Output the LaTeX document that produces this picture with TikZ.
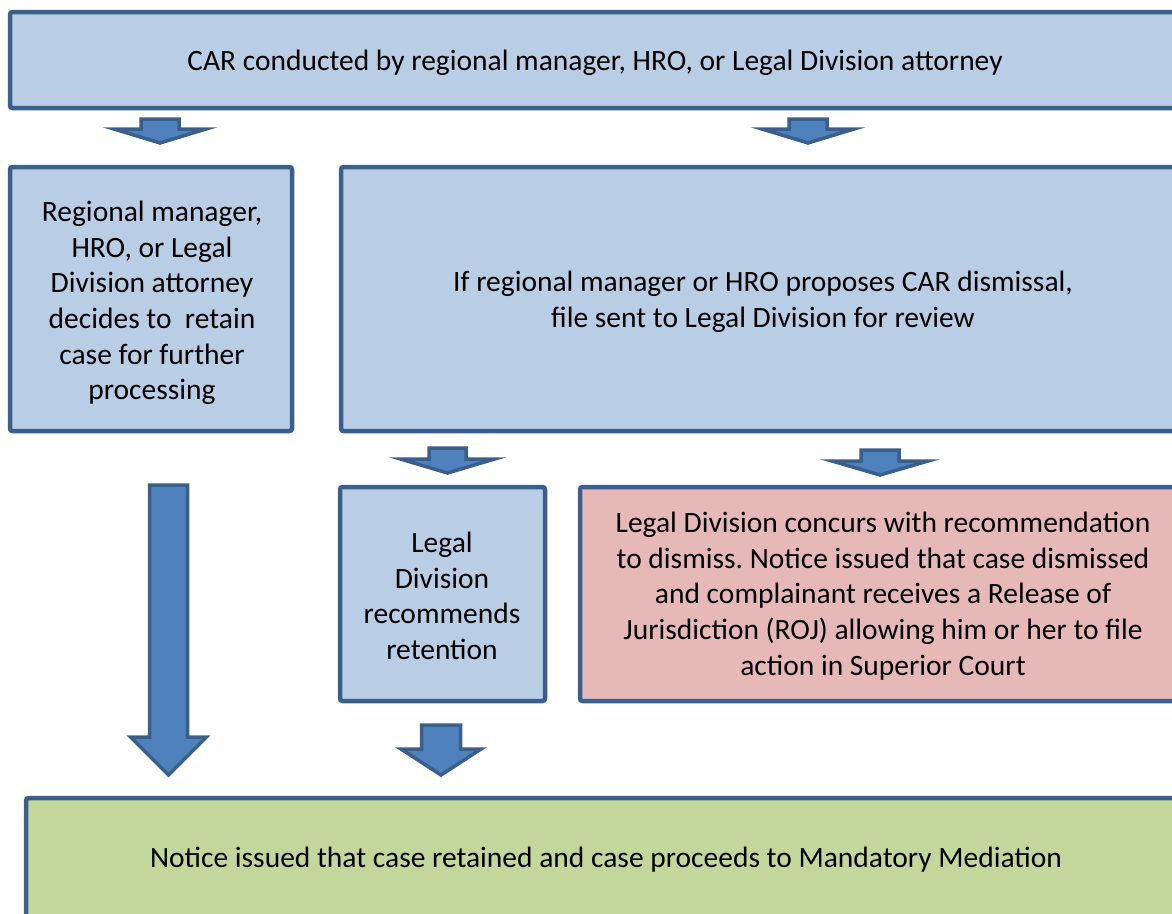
\documentclass[tikz,border=0pt]{standalone}
\usepackage{fontspec}
\setmainfont{Carlito}
\frenchspacing
\definecolor{edgeblue}{HTML}{3A5F8B}
\definecolor{boxblue}{HTML}{B9CDE5}
\definecolor{arrowblue}{HTML}{4F81BD}
\definecolor{boxred}{HTML}{E6B9B8}
\definecolor{boxgreen}{HTML}{C3D69B}
% block arrow pointing down: centre x, shaft half width, top, wing y, wing half width, tip y
\newcommand{\blkarrow}[6]{%
  \draw[blockarrow] (#1-#2,#3) -- (#1+#2,#3) -- (#1+#2,#4) -- (#1+#5,#4)
    -- (#1,#6) -- (#1-#5,#4) -- (#1-#2,#4) -- cycle;}
\begin{document}
\begin{tikzpicture}[x=1pt,y=-1pt,
  panel/.style={draw=edgeblue, line width=4.5pt, rounded corners=2.5pt},
  blockarrow/.style={draw=edgeblue, fill=arrowblue, line width=3.5pt, line join=miter},
  label/.style={font=\fontsize{29.5}{35.6}\selectfont, align=center, inner sep=0pt, text=black}]
\useasboundingbox (0,0) rectangle (1172,913);
\clip (0,0) rectangle (1172,913);

% panels
\draw[panel, fill=boxblue] (10,12) rectangle (1195,108);
\draw[panel, fill=boxblue] (10,167) rectangle (292,431);
\draw[panel, fill=boxblue] (341,167) rectangle (1195,431);
\draw[panel, fill=boxblue] (340,487) rectangle (545,701);
\draw[panel, fill=boxred] (580,487) rectangle (1195,701);
\draw[panel, fill=boxgreen] (26,798) rectangle (1195,940);

% texts
\node[label] (car) at (595,63) {CAR conducted by regional manager, HRO, or Legal Division attorney};
\node[label] (retain) at (152,303) {Regional manager,\\HRO, or Legal\\Division attorney\\decides to\ \ retain\\case for further\\processing};
\node[label] (propose) at (763,302) {If regional manager or HRO proposes CAR dismissal,\\file sent to Legal Division for review};
\node[label] (recommend) at (442,596) {Legal\\Division\\recommends\\retention};
\node[label] (concur) at (883,596) {Legal Division concurs with recommendation\\to dismiss. Notice issued that case dismissed\\and complainant receives a Release of\\Jurisdiction (ROJ) allowing him or her to file\\action in Superior Court};
\node[label] (mediation) at (606,860) {Notice issued that case retained and case proceeds to Mandatory Mediation};

% block arrows
\blkarrow{160}{19}{119}{129}{46}{143}
\blkarrow{808}{19}{119}{129}{46}{143}
\blkarrow{168.5}{19}{485}{737}{38}{775}
\blkarrow{447.5}{18.5}{448}{459}{47}{473}
\blkarrow{880}{19}{450}{461}{48}{475}
\blkarrow{441}{19.5}{725}{749}{40}{775}
\end{tikzpicture}
\end{document}
